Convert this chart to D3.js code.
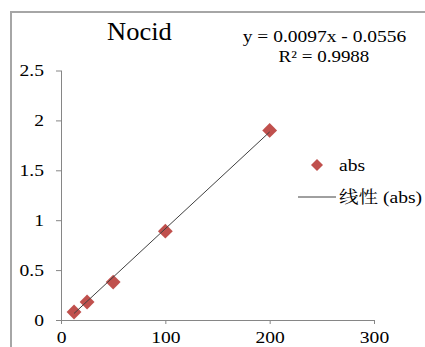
<!DOCTYPE html>
<html><head><meta charset="utf-8">
<script src="https://cdn.jsdelivr.net/npm/d3@7"></script>
<style>body{margin:0;background:#fff;}svg{display:block;}</style>
</head><body>
<svg id="c" width="425" height="347"></svg>
<script>
const xValues = [12.5, 25, 50, 100, 200];
const absValues = [0.08, 0.18, 0.38, 0.89, 1.90];
const xTicks = [0, 100, 200, 300];
const yTicks = [0, 0.5, 1, 1.5, 2, 2.5];
const slope = 0.0097, intercept = -0.0556;
const title = "Nocid";
const eqText = "y = 0.0097x - 0.0556";
const r2Text = "R² = 0.9988";
const legendLabels = ["abs", "线性 (abs)"];

const SERIF = "Liberation Serif, Noto Serif CJK SC, serif";
const svg = d3.select("#c");
svg.append("path").attr("d","M11,347 L11,12 L425,12").attr("fill","none").attr("stroke","#a6a6a6").attr("stroke-width",2);

const x = d3.scaleLinear().domain([0,300]).range([61,374]);
const y = d3.scaleLinear().domain([0,2.5]).range([320,70.5]);

function stretch(sel, k){
  sel.each(function(){
    const w = this.getComputedTextLength();
    d3.select(this).attr("textLength", w*k).attr("lengthAdjust","spacingAndGlyphs");
  });
}

const xa = svg.append("g").attr("transform","translate(0,320)")
  .call(d3.axisBottom(x).tickValues(xTicks).tickSize(4).tickPadding(8).tickFormat(d3.format("d")));
const ya = svg.append("g").attr("transform","translate(61,0)")
  .call(d3.axisLeft(y).tickValues(yTicks).tickSize(5).tickPadding(12).tickFormat(d=>String(d)));
[xa,ya].forEach(a=>{
  a.attr("font-family",null);
  a.selectAll("path,line").attr("stroke","#868686");
  a.select(".domain").attr("d", a===xa ? "M61,0.5H374" : "M0.5,70.5V320");
  a.selectAll("text").style("font-family",SERIF).attr("font-size",17).attr("fill","#000");
  stretch(a.selectAll("text"), 1.15);
});
xa.selectAll("text").attr("dy","0.62em");

const xr = d3.extent(xValues);
const diamond = d3.symbol().type(d3.symbolSquare).size(110);
svg.selectAll(".pt").data(xValues).enter().append("path")
  .attr("d",diamond)
  .attr("transform",(d,i)=>`translate(${x(d)},${y(absValues[i])}) rotate(45)`)
  .attr("fill","#c0504d");

svg.append("line")
  .attr("x1",x(xr[0])).attr("y1",y(slope*xr[0]+intercept))
  .attr("x2",x(xr[1])).attr("y2",y(slope*xr[1]+intercept))
  .attr("stroke","#404040").attr("stroke-width",1);

function txt(xp,yp,s,size,anchor,k){
  const t = svg.append("text").attr("x",xp).attr("y",yp).attr("text-anchor",anchor||"start")
    .style("font-family",SERIF).attr("font-size",size).attr("fill","#000").text(s);
  stretch(t, k||1.15);
  return t;
}
txt(139.5,40,title,25,"middle",1.06);
txt(324.5,42,eqText,16.5,"middle",1.18);
txt(324,62,r2Text,16.5,"middle",1.15);

svg.append("path").attr("d",d3.symbol().type(d3.symbolSquare).size(72))
  .attr("transform","translate(317,165) rotate(45)").attr("fill","#c0504d");
txt(339,171,legendLabels[0],17,"start",1.15);
svg.append("line").attr("x1",298).attr("x2",336).attr("y1",197).attr("y2",197).attr("stroke","#404040");
txt(339,203,legendLabels[1],17,"start",1.15);
</script>
</body></html>
